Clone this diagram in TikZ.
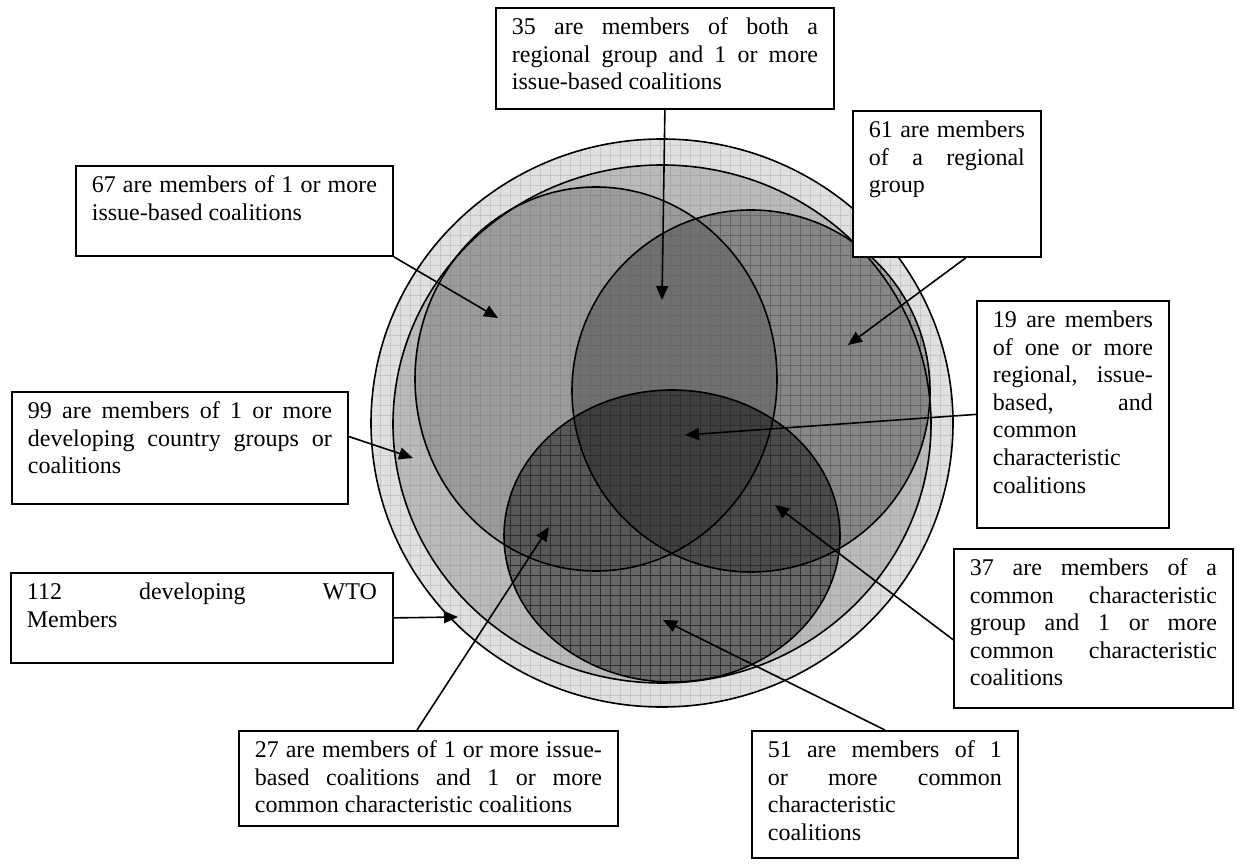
\documentclass[tikz,border=0pt]{standalone}
\usepackage{fontspec}
\setmainfont{Liberation Serif}
\usetikzlibrary{arrows.meta,patterns,calc}
\pgfdeclarepatternformonly{wgrid}{\pgfqpoint{-1pt}{-1pt}}{\pgfqpoint{6pt}{6pt}}{\pgfqpoint{5pt}{5pt}}{%
  \pgfsetlinewidth{0.45pt}%
  \pgfpathmoveto{\pgfqpoint{-1pt}{0pt}}\pgfpathlineto{\pgfqpoint{6pt}{0pt}}%
  \pgfpathmoveto{\pgfqpoint{0pt}{-1pt}}\pgfpathlineto{\pgfqpoint{0pt}{6pt}}%
  \pgfusepath{stroke}}
\newcommand{\bt}[3]{\parbox[c][#2][t]{#1}{\strut #3}}
\begin{document}
\begin{tikzpicture}[x=0.5pt,y=-0.5pt,
  lbl/.style={draw, line width=0.9pt, fill=white, inner xsep=8pt, inner ysep=3.6pt,
    anchor=north west, font=\fontsize{12}{13.8}\selectfont},
  arr/.style={line width=0.8pt, -{Triangle[length=7pt,width=6pt]}},
  shp/.style={draw=black, line width=0.8pt},
  grd/.style={pattern=wgrid, pattern color=#1}]
\useasboundingbox (0,0) rectangle (1242,865);

% fills
\fill[black, fill opacity=0.12] (662,423) ellipse [x radius=291, y radius=284];
\path[grd=black!22] (662,423) ellipse [x radius=291, y radius=284];
\fill[black, fill opacity=0.17] (662,424) ellipse [x radius=269, y radius=259];
\path[grd=black!34] (662,424) ellipse [x radius=269, y radius=259];
\fill[black, fill opacity=0.17] (596,379) ellipse [x radius=181, y radius=192];
\path[grd=black!46] (596,379) ellipse [x radius=181, y radius=192];
\fill[black, fill opacity=0.28] (751,391) ellipse [x radius=179, y radius=181];
\path[grd=black!60] (751,391) ellipse [x radius=179, y radius=181];
\fill[black, fill opacity=0.44] (672,536) ellipse [x radius=168, y radius=146];
\path[grd=black!82] (672,536) ellipse [x radius=168, y radius=146];

% outlines
\draw[shp] (662,423) ellipse [x radius=291, y radius=284];
\draw[shp] (662,424) ellipse [x radius=269, y radius=259];
\draw[shp] (596,379) ellipse [x radius=181, y radius=192];
\draw[shp] (751,391) ellipse [x radius=179, y radius=181];
\draw[shp] (672,536) ellipse [x radius=168, y radius=146];

% boxes
\node[lbl] (b35) at (495,7) {\bt{153pt}{43.3pt}{35 are members of both a\linebreak regional group and 1 or more\linebreak issue-based coalitions}};
\node[lbl] (b61) at (852,110) {\bt{78pt}{65.8pt}{61 are members\linebreak of a regional\linebreak group}};
\node[lbl] (b67) at (75,165) {\bt{142.5pt}{37.8pt}{67 are members of 1 or more\linebreak issue-based coalitions}};
\node[lbl] (b19) at (976,300) {\bt{80pt}{106.3pt}{19 are members\linebreak of one or more\linebreak regional, issue-\linebreak based, and\linebreak common\newline characteristic\newline coalitions}};
\node[lbl] (b99) at (11,391) {\bt{152pt}{48.8pt}{99 are members of 1 or more\linebreak developing country groups or\linebreak coalitions}};
\node[lbl] (b112) at (10,572) {\bt{175pt}{37.8pt}{112 developing WTO\linebreak Members}};
\node[lbl] (b37) at (953,548) {\bt{123.5pt}{72.3pt}{37 are members of a\linebreak common characteristic\linebreak group and 1 or more\linebreak common characteristic\linebreak coalitions}};
\node[lbl] (b27) at (238,730) {\bt{173.5pt}{40.3pt}{27 are members of 1 or more issue-\linebreak based coalitions and 1 or more\linebreak common characteristic coalitions}};
\node[lbl] (b51) at (751,730) {\bt{117pt}{56.3pt}{51 are members of 1\linebreak or more common\linebreak characteristic\newline coalitions}};

% arrow tips
\coordinate (t35) at (662,300);
\coordinate (t67) at (498,318);
\coordinate (t61) at (848,345);
\coordinate (t19) at (685,435);
\coordinate (t99) at (413,458);
\coordinate (t112) at (458,617);
\coordinate (t37) at (775,505);
\coordinate (t27) at (549,527);
\coordinate (t51) at (663,620);

\draw[arr] (b35.south) -- (t35);
\draw[arr] (b67.south east) -- (t67);
\draw[arr] ($(b61.south west)!0.6!(b61.south east)$) -- (t61);
\draw[arr] (b19.west) -- (t19);
\draw[arr] ($(b99.north east)!0.4!(b99.south east)$) -- (t99);
\draw[arr] (b112.east) -- (t112);
\draw[arr] ($(b37.north west)!0.57!(b37.south west)$) -- (t37);
\draw[arr] ($(b27.north west)!0.47!(b27.north east)$) -- (t27);
\draw[arr] (b51.north) -- (t51);
\end{tikzpicture}
\end{document}
